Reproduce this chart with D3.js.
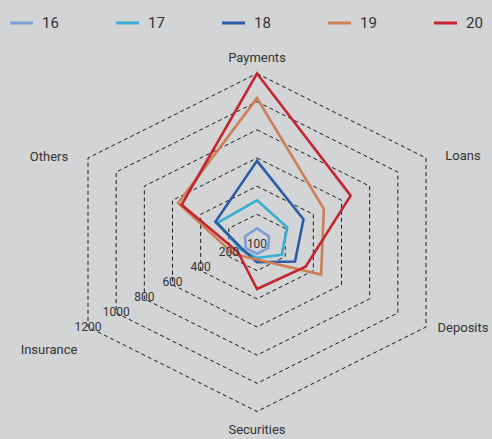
<!DOCTYPE html>
<html>
<head>
<meta charset="utf-8">
<script src="https://cdn.jsdelivr.net/npm/d3@7/dist/d3.min.js"></script>
<style>
html,body{margin:0;padding:0;background:#d3d4d6;}
svg{display:block;}
text{font-family:Roboto,"Liberation Sans",Arial,sans-serif;fill:#333;}
</style>
</head>
<body>
<svg id="chart" width="492" height="439"></svg>
<script>
const axes = ["Payments","Loans","Deposits","Securities","Insurance","Others"];
const seriesNames = ["16","17","18","19","20"];
const s16 = [100, 85, 80, 80, 80, 85];
const s17 = [300, 215, 175, 110, 110, 280];
const s18 = [580, 330, 270, 140, 100, 295];
const s19 = [1025, 475, 455, 120, 165, 560];
const s20 = [1200, 665, 345, 330, 135, 535];
const gridLevels = [200, 400, 600, 800, 1000, 1200];
const tickValues = [100, 200, 400, 600, 800, 1000, 1200];
const tickLabels = ["100","200","400","600","800","1000","1200"];
const colors = ["#7d9fd6","#38aed2","#2b5aa6","#cc7e55","#c3262e"];

const series = [s16, s17, s18, s19, s20];
const svg = d3.select("#chart");
const W = 492, H = 439;
svg.append("rect").attr("width", W).attr("height", H).attr("fill", "#d3d4d6");

const cx = 257, cy = 242.5;
const r = d3.scaleLinear().domain([0, 1200]).range([0, 169]);
const kx = 1 / Math.cos(Math.PI / 6);
const ang = d3.scalePoint().domain(axes).range([0, 2 * Math.PI * 5 / 6]);
function pt(axis, v) {
  const a = ang(axis);
  return [cx + kx * r(v) * Math.sin(a), cy - r(v) * Math.cos(a)];
}
const line = d3.line().curve(d3.curveLinearClosed);

// grid
const g = svg.append("g");
gridLevels.forEach(lv => {
  g.append("path")
    .attr("d", line(axes.map(a => pt(a, lv))))
    .attr("fill", "none")
    .attr("stroke", "#1a1a1a")
    .attr("stroke-width", 1)
    .attr("stroke-dasharray", "4,3");
});

// series
series.forEach((s, i) => {
  svg.append("path")
    .attr("d", line(axes.map((a, j) => pt(a, s[j]))))
    .attr("fill", "none")
    .attr("stroke", colors[i])
    .attr("stroke-width", 2.6)
    .attr("stroke-linejoin", "miter");
});

// tick labels (along Insurance direction)
tickValues.forEach((v, i) => {
  const x = i === 0 ? cx : cx - r(v);
  const y = cy + 0.53 * r(v) - 5.7;
  svg.append("text")
    .attr("x", x).attr("y", y)
    .attr("dy", "0.35em")
    .attr("text-anchor", "middle")
    .attr("font-size", 12)
    .text(tickLabels[i]);
});

// axis labels
axes.forEach(a => {
  const [vx, vy] = pt(a, 1200);
  let x = vx, y = vy;
  if (vx > cx + 1) x = vx + 37;
  else if (vx < cx - 1) x = vx - 39;
  if (Math.abs(vx - cx) < 1) y = vy < cy ? vy - 16 : vy + 18;
  if (a === "Insurance") y = vy + 22;
  if (a === "Others") y = vy - 2;
  if (a === "Loans") y = vy - 3;
  svg.append("text")
    .attr("x", x).attr("y", y)
    .attr("dy", "0.35em")
    .attr("text-anchor", "middle")
    .attr("font-size", 13)
    .text(a);
});

// legend
const leg = svg.append("g");
seriesNames.forEach((n, i) => {
  const x0 = 10 + i * 106;
  leg.append("line")
    .attr("x1", x0).attr("x2", x0 + 23)
    .attr("y1", 23).attr("y2", 23)
    .attr("stroke", colors[i]).attr("stroke-width", 3);
  leg.append("text")
    .attr("x", x0 + 32).attr("y", 23)
    .attr("dy", "0.35em")
    .attr("font-size", 15)
    .text(n);
});
</script>
</body>
</html>
